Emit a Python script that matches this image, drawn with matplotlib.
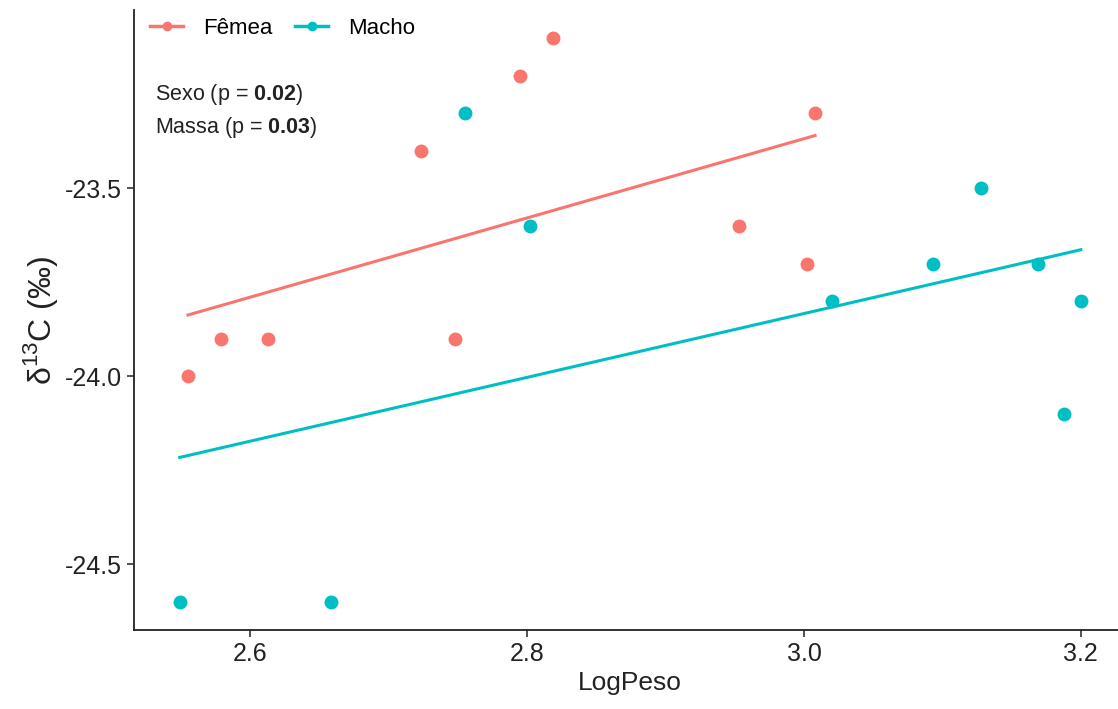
import numpy as np
import matplotlib.pyplot as plt
from matplotlib.lines import Line2D

plt.rcParams['font.family'] = ['Liberation Sans', 'DejaVu Sans']
plt.rcParams['mathtext.fontset'] = 'custom'
plt.rcParams['mathtext.rm'] = 'Liberation Sans'
plt.rcParams['mathtext.bf'] = 'Liberation Sans:bold'

# dados: log do peso e delta 13C por sexo
femea_x = [2.555, 2.579, 2.613, 2.723, 2.748, 2.795, 2.8185, 2.953, 3.002, 3.008]
femea_y = [-24.0, -23.9, -23.9, -23.4, -23.9, -23.2, -23.1, -23.6, -23.7, -23.3]
macho_x = [2.549, 2.658, 2.755, 2.802, 3.020, 3.093, 3.128, 3.169, 3.188, 3.200]
macho_y = [-24.6, -24.6, -23.3, -23.6, -23.8, -23.7, -23.5, -23.7, -24.1, -23.8]

grupos = ['Fêmea', 'Macho']
cores = ['#F8766D', '#00BFC4']
dados = [(femea_x, femea_y), (macho_x, macho_y)]

fig = plt.figure(figsize=(11.18, 7.09), dpi=100)
ax = fig.add_axes([134/1118, (709-630)/709, (1126-134)/1118, (630-10)/709])

for (xs, ys), cor in zip(dados, cores):
    xs = np.array(xs)
    ys = np.array(ys)
    ax.scatter(xs, ys, s=100, color=cor, zorder=3, linewidths=0)
    a, b = np.polyfit(xs, ys, 1)
    xx = np.linspace(xs.min(), xs.max(), 50)
    ax.plot(xx, a*xx + b, color=cor, lw=2.2, zorder=2)

ax.set_xlim(2.516, 3.2326)
ax.set_ylim(-24.675, -23.025)
ax.set_xticks([2.6, 2.8, 3.0, 3.2])
ax.set_xticklabels(['2.6', '2.8', '3.0', '3.2'])
ax.set_yticks([-24.5, -24.0, -23.5])
ax.set_yticklabels(['-24.5', '-24.0', '-23.5'])
ax.tick_params(labelsize=18, length=5, width=1.1, colors='#222222', labelcolor='#222222')
for lado in ['top', 'right']:
    ax.spines[lado].set_visible(False)
for lado in ['left', 'bottom']:
    ax.spines[lado].set_linewidth(1.3)
    ax.spines[lado].set_color('#222222')

ax.set_xlabel('LogPeso', fontsize=19, color='#222222', labelpad=4)
ax.set_ylabel('δ$^{13}$C (‰)', fontsize=23, color='#222222', labelpad=4)

handles = [Line2D([0], [0], color=c, lw=2.5, marker='o', markersize=7, markeredgewidth=0)
           for c in cores]
ax.legend(handles, grupos, loc='upper left', bbox_to_anchor=(-0.004, 1.02), ncol=2,
          frameon=False, fontsize=16, handlelength=1.5, handletextpad=0.9,
          columnspacing=1.0)

ax.text(0.021, 0.863, r'Sexo (p = $\mathbf{0.02}$)', transform=ax.transAxes,
        fontsize=15.5, va='center', color='#222222')
ax.text(0.021, 0.810, r'Massa (p = $\mathbf{0.03}$)', transform=ax.transAxes,
        fontsize=15.5, va='center', color='#222222')

fig.savefig('out.png', dpi=100)
